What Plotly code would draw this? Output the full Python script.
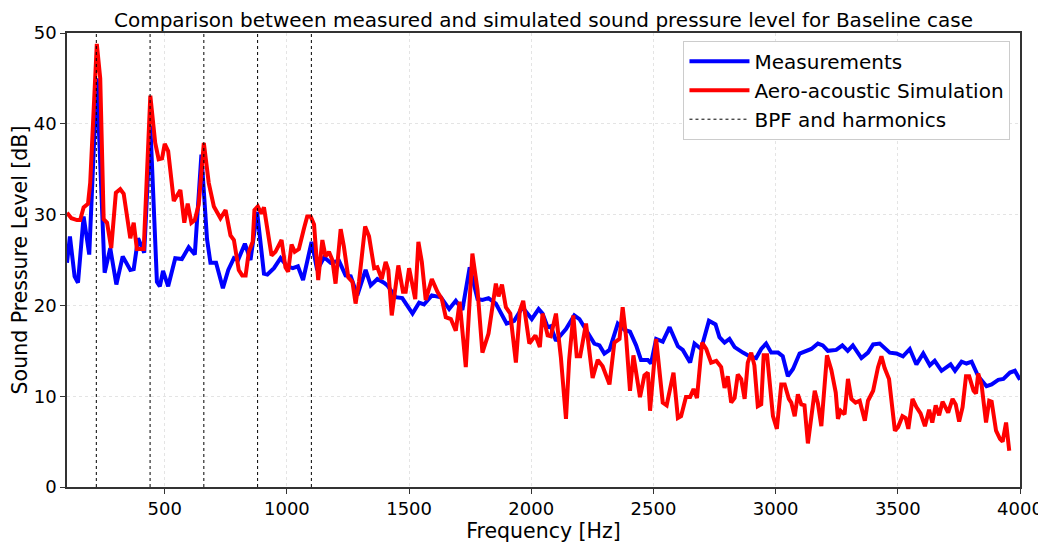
import plotly.graph_objects as go

# measured spectrum (blue)
freq_meas = [100, 112, 131, 145, 168, 191, 222, 254, 277, 302, 328, 359, 373, 391, 416, 441, 468, 480, 493,
             514, 543, 570, 598, 623, 650, 673, 687, 710, 738, 760, 783, 800, 828, 851, 878, 906, 920, 947,
             974, 1001, 1024, 1045, 1066, 1101, 1124, 1152, 1179, 1213, 1240, 1261, 1288, 1322, 1343, 1370,
             1397, 1411, 1445, 1472, 1514, 1541, 1561, 1593, 1630, 1664, 1691, 1718, 1748, 1780, 1800, 1825,
             1855, 1899, 1930, 1964, 2002, 2030, 2046, 2067, 2080, 2101, 2142, 2176, 2197, 2231, 2258, 2279,
             2299, 2320, 2354, 2382, 2404, 2429, 2449, 2477, 2490, 2511, 2538, 2566, 2600, 2620, 2650, 2668,
             2695, 2727, 2754, 2770, 2791, 2811, 2832, 2866, 2893, 2920, 2941, 2961, 2982, 3010, 3029, 3050,
             3071, 3098, 3119, 3146, 3173, 3193, 3214, 3248, 3273, 3295, 3316, 3351, 3378, 3399, 3426, 3467,
             3494, 3521, 3549, 3576, 3604, 3631, 3651, 3679, 3716, 3734, 3761, 3781, 3802, 3829, 3863, 3884,
             3911, 3932, 3959, 3979, 4000]
spl_meas = [24.7, 27.6, 23.2, 22.5, 29.8, 25.6, 45.0, 23.6, 26.3, 22.3, 25.4, 23.9, 24.0, 27.4, 25.8, 39.8, 22.6, 22.1, 23.8,
            22.1, 25.2, 25.1, 26.4, 25.6, 36.6, 27.3, 24.7, 24.7, 21.9, 23.9, 25.2, 25.0, 26.8, 25.0, 30.3, 23.5, 23.4, 24.1,
            25.2, 24.3, 24.1, 24.3, 22.8, 27.0, 23.9, 25.3, 24.7, 24.9, 23.3, 23.2, 21.1, 23.9, 22.2, 22.9,
            22.5, 22.2, 20.9, 20.8, 19.1, 20.3, 20.1, 21.1, 20.9, 19.6, 20.5, 19.5, 24.2, 20.7, 20.6, 20.8,
            20.2, 18.0, 18.3, 19.8, 18.5, 19.6, 19.1, 17.6, 17.7, 16.1, 17.4, 18.9, 18.5, 17.0, 15.8, 15.6,
            14.7, 15.1, 18.0, 17.3, 17.1, 15.6, 14.0, 14.0, 13.6, 16.3, 16.0, 17.6, 15.5, 15.1, 13.7, 15.8,
            15.2, 18.3, 17.9, 16.5, 15.9, 16.3, 15.4, 14.8, 14.4, 14.2, 15.2, 15.8, 14.8, 14.8, 14.4, 12.2,
            13.0, 14.7, 14.9, 15.2, 15.8, 15.6, 15.0, 15.1, 15.6, 15.0, 15.6, 14.2, 14.8, 15.7, 15.8, 14.8,
            14.7, 14.4, 15.2, 13.5, 14.7, 13.4, 13.9, 12.8, 13.5, 12.8, 13.8, 13.6, 13.8, 12.2, 11.1, 11.3,
            11.8, 11.9, 12.6, 12.8, 11.8]

# simulated spectrum (red)
freq_sim = [100, 118, 141, 154, 168, 186, 195, 209, 222, 236, 250, 264, 281, 300, 318, 332, 359, 373, 386, 414,
            441, 461, 475, 489, 500, 514, 537, 564, 580, 594, 609, 623, 639, 660, 680, 701, 728, 749, 769, 783,
            803, 817, 831, 844, 860, 867, 881, 896, 906, 937, 953, 978, 994, 1005, 1019, 1032, 1049, 1070,
            1083, 1097, 1111, 1128, 1145, 1158, 1172, 1186, 1199, 1220, 1233, 1251, 1268, 1281, 1295, 1320,
            1336, 1357, 1370, 1388, 1404, 1415, 1429, 1456, 1475, 1486, 1500, 1525, 1538, 1552, 1568, 1593,
            1616, 1634, 1650, 1671, 1691, 1707, 1732, 1759, 1780, 1800, 1825, 1855, 1866, 1880, 1896, 1914,
            1937, 1953, 1967, 1992, 2017, 2035, 2046, 2067, 2080, 2101, 2121, 2142, 2155, 2172, 2186, 2200,
            2224, 2251, 2272, 2292, 2320, 2340, 2361, 2374, 2388, 2404, 2418, 2445, 2463, 2477, 2486, 2511,
            2538, 2554, 2582, 2600, 2613, 2633, 2650, 2664, 2678, 2699, 2716, 2736, 2757, 2777, 2791, 2804,
            2818, 2832, 2845, 2859, 2873, 2886, 2900, 2913, 2927, 2941, 2951, 2965, 2975, 2989, 3005, 3023,
            3037, 3054, 3064, 3078, 3091, 3105, 3118, 3132, 3160, 3173, 3187, 3210, 3228, 3246, 3255, 3266,
            3282, 3296, 3310, 3327, 3344, 3365, 3378, 3399, 3419, 3433, 3446, 3464, 3488, 3501, 3519, 3532,
            3543, 3560, 3576, 3593, 3611, 3628, 3641, 3655, 3669, 3683, 3706, 3724, 3737, 3751, 3765, 3779,
            3792, 3810, 3820, 3829, 3843, 3861, 3874, 3884, 3902, 3918, 3929, 3943, 3956]
spl_sim = [30.2, 29.6, 29.4, 29.4, 30.8, 31.2, 33.5, 42.4, 48.8, 45.0, 29.5, 29.1, 26.3, 32.4, 32.8, 32.3, 27.4, 29.1, 26.2, 26.2,
           43.1, 37.9, 36.1, 36.2, 37.8, 37.0, 31.5, 32.7, 29.1, 31.2, 29.1, 29.4, 31.1, 37.9, 33.5, 30.9, 29.6, 30.5, 27.7, 27.2,
           23.9, 23.3, 23.3, 25.9, 27.0, 30.5, 30.9, 30.1, 30.8, 25.5, 25.9, 27.2, 24.2, 23.7, 26.7, 25.9, 26.2, 28.5,
           29.8, 29.8, 28.9, 22.8, 27.2, 25.4, 25.9, 25.0, 22.4, 28.4, 26.5, 23.1, 22.6, 20.2, 22.6, 28.7,
           27.6, 24.1, 24.2, 22.9, 24.8, 23.9, 18.9, 24.4, 21.5, 21.5, 24.1, 20.7, 27.0, 24.8, 20.6, 22.9,
           21.5, 20.7, 18.7, 18.5, 17.2, 20.4, 13.2, 25.7, 21.7, 14.8, 16.9, 22.4, 21.0, 22.3, 19.8, 19.1,
           13.7, 19.4, 20.5, 15.8, 16.7, 15.4, 19.1, 16.7, 16.6, 19.1, 14.3, 7.5, 14.0, 18.9, 14.4, 14.4,
           18.0, 12.0, 14.0, 13.3, 11.3, 15.9, 16.3, 19.8, 16.5, 10.6, 14.5, 9.9, 12.3, 12.6, 8.4, 16.3,
           9.3, 9.0, 12.6, 7.6, 7.8, 9.9, 9.9, 10.8, 9.8, 15.9, 15.2, 13.7, 13.9, 13.2, 10.9, 12.2,
           9.3, 9.8, 12.4, 11.9, 9.7, 13.7, 14.8, 13.4, 8.9, 9.1, 14.5, 14.5, 11.2, 7.8, 6.4, 11.3,
           11.3, 9.7, 9.3, 7.8, 10.2, 9.1, 9.0, 4.8, 10.6, 9.2, 6.7, 14.5, 12.9, 10.4, 7.5, 8.4,
           8.0, 11.9, 9.7, 9.3, 9.5, 7.3, 9.5, 10.6, 13.2, 14.4, 13.1, 11.9, 6.2, 6.6, 7.8, 7.6,
           6.4, 9.7, 8.8, 8.1, 6.7, 8.5, 7.1, 9.0, 7.9, 9.4, 8.2, 9.7, 9.1, 7.2, 8.8, 12.2,
           12.2, 10.6, 10.3, 12.5, 11.2, 7.1, 9.5, 9.4, 6.2, 5.3, 5.0, 7.1, 4.0]

# blade passing frequency and its harmonics
bpf = [220, 440, 660, 880, 1100]

y_min, y_max = 0, 50
x_min, x_max = 100, 4000

bpf_x, bpf_y = [], []
for f in bpf:
    bpf_x += [f, f, None]
    bpf_y += [y_min, y_max, None]

font = "DejaVu Sans"

fig = go.Figure()
fig.add_trace(go.Scatter(x=freq_meas, y=spl_meas, mode="lines", name="Measurements",
                         line=dict(color="#0000ff", width=4)))
fig.add_trace(go.Scatter(x=freq_sim, y=spl_sim, mode="lines", name="Aero-acoustic Simulation",
                         line=dict(color="#ff0000", width=4)))
fig.add_trace(go.Scatter(x=bpf_x, y=bpf_y, mode="lines", name="BPF and harmonics",
                         line=dict(color="black", width=1, dash="dot")))

# the page body adds 8px, so margins are shifted by that amount
fig.update_layout(
    width=1046, height=542,
    margin=dict(l=59, r=34, t=25, b=63),
    paper_bgcolor="white", plot_bgcolor="white",
    font=dict(family=font, size=18, color="black"),
    title=dict(text="Comparison between measured and simulated sound pressure level for Baseline case",
               x=0.5, xref="paper", xanchor="center", y=0.977, yanchor="middle",
               font=dict(size=20)),
    legend=dict(x=0.99, y=0.983, xanchor="right", yanchor="top",
                bgcolor="white", bordercolor="#cccccc", borderwidth=1,
                font=dict(size=20), tracegroupgap=0, itemwidth=60),
    showlegend=True,
)
fig.update_xaxes(range=[x_min, x_max], tickvals=[500, 1000, 1500, 2000, 2500, 3000, 3500, 4000],
                 title=dict(text="Frequency [Hz]", standoff=1, font=dict(size=20.5)), automargin=False,
                 showgrid=True, gridcolor="#e4e4e4", griddash="dot",
                 showline=True, linecolor="#333333", linewidth=1.5, mirror=True,
                 ticks="outside", ticklen=5, tickcolor="#333333", zeroline=False)
fig.update_yaxes(range=[y_min, y_max], tickvals=[0, 10, 20, 30, 40, 50],
                 title=dict(text="Sound Pressure Level [dB]", standoff=6, font=dict(size=20.5)), automargin=False,
                 showgrid=True, gridcolor="#e4e4e4", griddash="dot",
                 showline=True, linecolor="#333333", linewidth=1.5, mirror=True,
                 ticks="outside", ticklen=5, tickcolor="#333333", zeroline=False)

fig.write_html("out.html")
